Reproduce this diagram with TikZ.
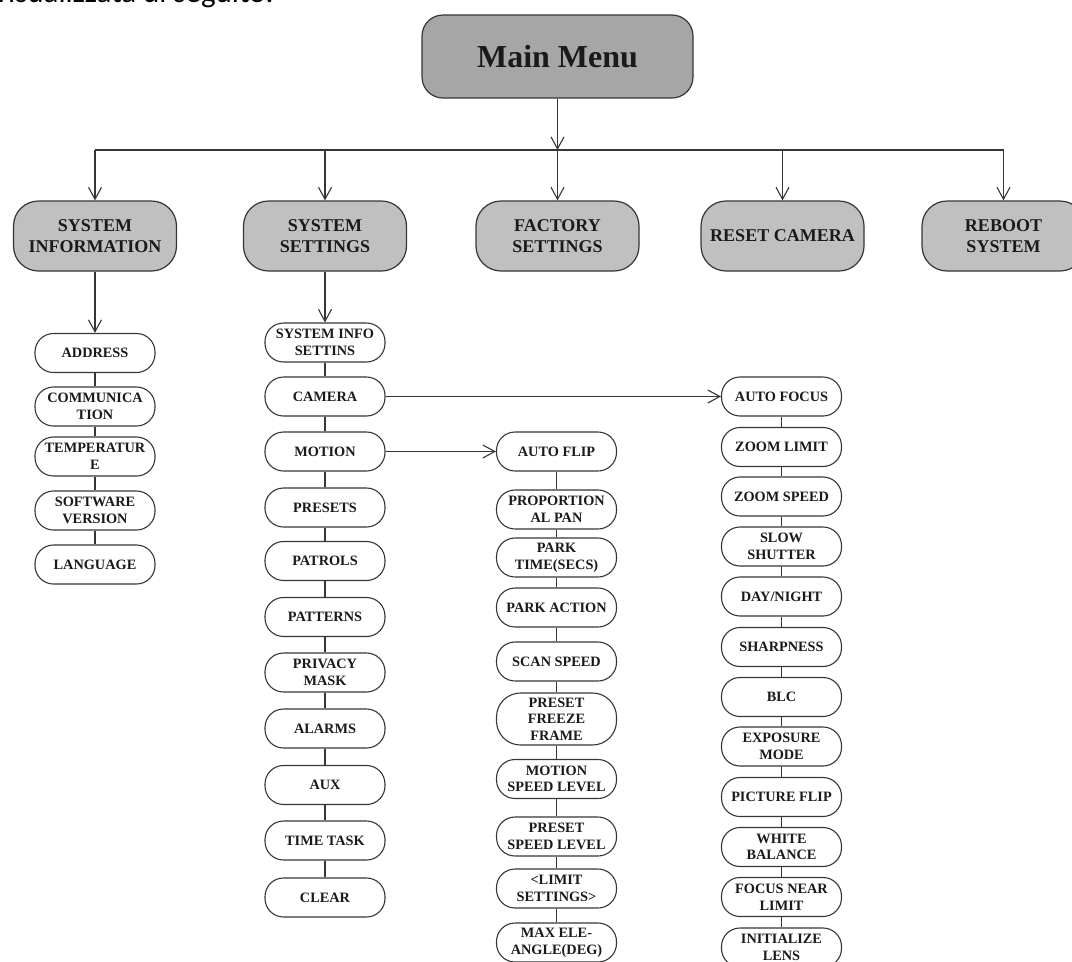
\documentclass[tikz,border=0pt]{standalone}
\usepackage{fontspec}
\setmainfont{Liberation Serif}
\newfontfamily\capfont{Carlito}
\usepackage{tikz}
\usetikzlibrary{arrows.meta, positioning}
\definecolor{C_MAIN}{HTML}{A6A6A6}
\definecolor{C_TOP} {HTML}{C0C0C0}
\definecolor{C_LINE}{HTML}{363636}
\definecolor{C_TEXT}{HTML}{1A1A1A}
\tikzset{
  %% -- root box --
  menu/main/.style={
    draw=C_LINE, line width=1.2pt, fill=C_MAIN, rounded corners=21pt,
    minimum width=271pt, minimum height=83pt,
    font=\fontsize{32}{36}\selectfont\bfseries, text=C_TEXT
  },
  %% -- first level boxes --
  menu/top/.style={
    draw=C_LINE, line width=1.2pt, fill=C_TOP, rounded corners=25pt,
    minimum width=163pt, minimum height=70pt, align=center,
    font=\fontsize{18}{21.5}\selectfont\bfseries, text=C_TEXT
  },
  %% -- sub-menu entries --
  menu/item/.style={
    draw=C_LINE, line width=1.1pt, fill=white, rounded corners=18.5pt,
    minimum width=120pt, minimum height=39pt, inner sep=1pt, align=center,
    font=\fontsize{14.3}{16.7}\selectfont\bfseries, text=C_TEXT
  },
  %% -- connectors --
  menu/arr/.style={-{Straight Barb[length=12pt,width=13pt]}, line width=1.1pt, draw=C_LINE},
  menu/link/.style={line width=1.1pt, draw=C_LINE},
}
\begin{document}
\begin{tikzpicture}[x=1pt, y=-1pt]

\useasboundingbox (0,0) rectangle (1072,962);
\clip (0,0) rectangle (1072,962);

%% ── Column x-positions ─────────────────────────────────────────────────────
\pgfmathsetmacro{\xInf}{95}     %% System information
\pgfmathsetmacro{\xSet}{325}    %% System settings
\pgfmathsetmacro{\xFac}{557.5}  %% Factory settings / main menu
\pgfmathsetmacro{\xRes}{782.5}  %% Reset camera
\pgfmathsetmacro{\xReb}{1003.5} %% Reboot system
\pgfmathsetmacro{\xMot}{556.5}  %% Motion sub-menu
\pgfmathsetmacro{\xCam}{781.5}  %% Camera sub-menu

%% ── Caption line (cut by the page edge) ────────────────────────────────────
\node[font=\capfont\fontsize{31}{34}\selectfont, anchor=base west, inner sep=0pt]
  (cap) at (-6,2) {visualizzata di seguito.};

%% ── Main menu and first level ──────────────────────────────────────────────
\node[menu/main] (MM) at (\xFac,56.5) {Main Menu};

\node[menu/top] (SI) at (\xInf,236) {SYSTEM\\INFORMATION};
\node[menu/top] (SS) at (\xSet,236) {SYSTEM\\SETTINGS};
\node[menu/top] (FS) at (\xFac,236) {FACTORY\\SETTINGS};
\node[menu/top] (RC) at (\xRes,236) {RESET CAMERA};
\node[menu/top] (RS) at (\xReb,236) {REBOOT\\SYSTEM};

\coordinate (bus) at (\xFac,150);
\draw[menu/arr] (MM) -- (MM |- bus);
\draw[menu/link] (SI |- bus) -- (RS |- bus);
\draw[menu/arr] (SI |- bus) -- (SI);
\draw[menu/arr] (SS |- bus) -- (SS);
\draw[menu/arr] (FS |- bus) -- (FS);
\draw[menu/arr] (RC |- bus) -- (RC);
\draw[menu/arr] (RS |- bus) -- (RS);

%% ══════════════════════════════════════════════════════════════════════════
%% System information
%% ══════════════════════════════════════════════════════════════════════════
\node[menu/item] (I1) at (\xInf,353)   {ADDRESS};
\node[menu/item] (I2) at (\xInf,406.5) {COMMUNICA\\TION};
\node[menu/item] (I3) at (\xInf,456.5) {TEMPERATUR\\E};
\node[menu/item] (I4) at (\xInf,510.5) {SOFTWARE\\VERSION};
\node[menu/item] (I5) at (\xInf,564.5) {LANGUAGE};

\draw[menu/arr] (SI) -- (I1);
\draw[menu/link] (I1) -- (I2);
\draw[menu/link] (I2) -- (I3);
\draw[menu/link] (I3) -- (I4);
\draw[menu/link] (I4) -- (I5);

%% ══════════════════════════════════════════════════════════════════════════
%% System settings
%% ══════════════════════════════════════════════════════════════════════════
\node[menu/item] (S1)  at (\xSet,342.5) {SYSTEM INFO\\SETTINS};
\node[menu/item] (S2)  at (\xSet,396.5) {CAMERA};
\node[menu/item] (S3)  at (\xSet,451.5) {MOTION};
\node[menu/item] (S4)  at (\xSet,507.5) {PRESETS};
\node[menu/item] (S5)  at (\xSet,561)   {PATROLS};
\node[menu/item] (S6)  at (\xSet,617)   {PATTERNS};
\node[menu/item] (S7)  at (\xSet,672.5) {PRIVACY\\MASK};
\node[menu/item] (S8)  at (\xSet,728.5) {ALARMS};
\node[menu/item] (S9)  at (\xSet,785)   {AUX};
\node[menu/item] (S10) at (\xSet,840.5) {TIME TASK};
\node[menu/item] (S11) at (\xSet,897.5) {CLEAR};

\draw[menu/arr] (SS) -- (S1);
\draw[menu/link] (S1) -- (S2);
\draw[menu/link] (S2) -- (S3);
\draw[menu/link] (S3) -- (S4);
\draw[menu/link] (S4) -- (S5);
\draw[menu/link] (S5) -- (S6);
\draw[menu/link] (S6) -- (S7);
\draw[menu/link] (S7) -- (S8);
\draw[menu/link] (S8) -- (S9);
\draw[menu/link] (S9) -- (S10);
\draw[menu/link] (S10) -- (S11);

%% ══════════════════════════════════════════════════════════════════════════
%% Motion sub-menu
%% ══════════════════════════════════════════════════════════════════════════
\node[menu/item] (M1)  at (\xMot,451.5) {AUTO FLIP};
\node[menu/item] (M2)  at (\xMot,509.5) {PROPORTION\\AL PAN};
\node[menu/item] (M3)  at (\xMot,557.5) {PARK\\TIME(SECS)};
\node[menu/item] (M4)  at (\xMot,607.5) {PARK ACTION};
\node[menu/item] (M5)  at (\xMot,661.5) {SCAN SPEED};
\node[menu/item, minimum height=52pt, rounded corners=24pt]
                 (M6)  at (\xMot,719)   {PRESET\\FREEZE\\FRAME};
\node[menu/item] (M7)  at (\xMot,779)   {MOTION\\SPEED LEVEL};
\node[menu/item] (M8)  at (\xMot,836.5) {PRESET\\SPEED LEVEL};
\node[menu/item] (M9)  at (\xMot,888.5) {<LIMIT\\SETTINGS>};
\node[menu/item] (M10) at (\xMot,942.5) {MAX ELE-\\ANGLE(DEG)};

\draw[menu/arr] (S3) -- (M1);
\draw[menu/link] (M1) -- (M2);
\draw[menu/link] (M2) -- (M3);
\draw[menu/link] (M3) -- (M4);
\draw[menu/link] (M4) -- (M5);
\draw[menu/link] (M5) -- (M6);
\draw[menu/link] (M6) -- (M7);
\draw[menu/link] (M7) -- (M8);
\draw[menu/link] (M8) -- (M9);
\draw[menu/link] (M9) -- (M10);

%% ══════════════════════════════════════════════════════════════════════════
%% Camera sub-menu
%% ══════════════════════════════════════════════════════════════════════════
\node[menu/item] (C1)  at (\xCam,396.5) {AUTO FOCUS};
\node[menu/item] (C2)  at (\xCam,447)   {ZOOM LIMIT};
\node[menu/item] (C3)  at (\xCam,496.5) {ZOOM SPEED};
\node[menu/item] (C4)  at (\xCam,546.5) {SLOW\\SHUTTER};
\node[menu/item] (C5)  at (\xCam,596.5) {DAY/NIGHT};
\node[menu/item] (C6)  at (\xCam,647)   {SHARPNESS};
\node[menu/item] (C7)  at (\xCam,697)   {BLC};
\node[menu/item] (C8)  at (\xCam,746.5) {EXPOSURE\\MODE};
\node[menu/item] (C9)  at (\xCam,797)   {PICTURE FLIP};
\node[menu/item] (C10) at (\xCam,847)   {WHITE\\BALANCE};
\node[menu/item] (C11) at (\xCam,897)   {FOCUS NEAR\\LIMIT};
\node[menu/item] (C12) at (\xCam,947.5) {INITIALIZE\\LENS};

\draw[menu/arr] (S2) -- (C1);
\draw[menu/link] (C1) -- (C2);
\draw[menu/link] (C2) -- (C3);
\draw[menu/link] (C3) -- (C4);
\draw[menu/link] (C4) -- (C5);
\draw[menu/link] (C5) -- (C6);
\draw[menu/link] (C6) -- (C7);
\draw[menu/link] (C7) -- (C8);
\draw[menu/link] (C8) -- (C9);
\draw[menu/link] (C9) -- (C10);
\draw[menu/link] (C10) -- (C11);
\draw[menu/link] (C11) -- (C12);

\end{tikzpicture}
\end{document}
